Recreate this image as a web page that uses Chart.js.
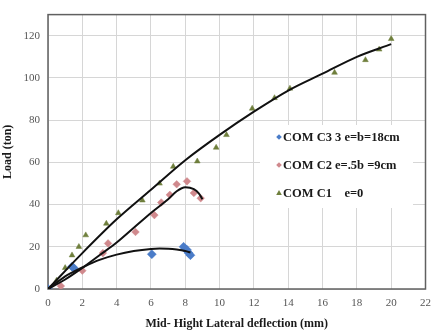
<!DOCTYPE html>
<html><head><meta charset="utf-8">
<script src="https://cdn.jsdelivr.net/npm/chart.js@4/dist/chart.umd.min.js"></script>
<style>html,body{margin:0;padding:0;background:#fff}#wrap{width:439px;height:336px;position:relative}</style>
</head><body><div id="wrap"><canvas id="c" width="439" height="336"></canvas></div>
<script>
// ---- tick labels ----
const xTicks = [0,2,4,6,8,10,12,14,16,18,20,22];
const yTicks = [0,20,40,60,80,100,120];
const xTitle = 'Mid- Hight Lateral deflection (mm)';
const yTitle = 'Load (ton)';
const seriesNames = ['COM C3 3 e=b=18cm', 'COM C2 e=.5b =9cm', 'COM C1    e=0'];

// ---- measured points ----
const c3X = [0, 1.4, 1.5, 6.05, 7.9, 8.0, 8.1, 8.2, 8.3];
const c3Y = [0, 10.6, 10.0, 16.5, 20, 19, 18.5, 17, 16];
const c2X = [0, 0.75, 2.0, 3.2, 3.5, 5.1, 6.2, 6.6, 7.1, 7.5, 8.1, 8.5, 8.9];
const c2Y = [0, 1.4, 8.7, 17, 21.6, 27, 35, 41, 44.6, 49.6, 51, 45.5, 43];
const c1X = [0, 0.5, 1.0, 1.4, 1.8, 2.2, 3.4, 4.1, 5.5, 6.5, 7.3, 8.7, 9.8, 10.4, 11.9, 13.2, 14.1, 16.7, 18.5, 19.3, 20];
const c1Y = [0, 4, 10, 16, 20, 25.5, 31, 36, 42, 50, 58, 60.5, 67, 73, 85.5, 90.5, 95, 102.5, 108.5, 113.5, 118.5];

// ---- trend lines ----
const t3X = [0, 0.5, 1, 1.5, 2, 3, 4, 5, 6, 6.5, 7, 7.5, 8, 8.3];
const t3Y = [0, 3, 6, 8.2, 10.2, 13.8, 16.3, 18, 19, 19.2, 19.1, 18.7, 18, 17.3];
const t2X = [0, 1, 2, 3, 4, 5, 6, 7, 7.5, 8, 8.5, 8.8, 9];
const t2Y = [0, 4.5, 10, 16, 22, 29, 36, 42.5, 46.3, 48.2, 47.3, 45.2, 42.5];
const t1X = [0, 2, 4, 6, 8, 10, 12, 14, 16, 18, 20];
const t1Y = [0, 17, 33, 47, 61, 73, 84, 94, 102, 110, 116];

const colors = ['#4a7cc8', '#d0898d', '#6f7f3c'];
const styles = ['rectRot', 'rectRot', 'triangle'];
const radii = [4.5, 3.8, 3.3];

const pts = (xs, ys) => xs.map((x, i) => ({x: x, y: ys[i]}));

const markerSets = [[c3X, c3Y], [c2X, c2Y], [c1X, c1Y]].map((d, i) => ({
  label: seriesNames[i], data: pts(d[0], d[1]), showLine: false,
  pointStyle: styles[i], pointRadius: radii[i], pointBackgroundColor: colors[i],
  pointBorderColor: colors[i], pointBorderWidth: 0.5, order: 2
}));
const trendSets = [[t3X, t3Y], [t2X, t2Y], [t1X, t1Y]].map((d, i) => ({
  label: 'trend' + i, data: pts(d[0], d[1]), showLine: true, pointRadius: 0,
  borderColor: '#111', borderWidth: 2, cubicInterpolationMode: 'monotone', fill: false, order: 1
}));

const frame = {
  id: 'frame',
  beforeDatasetsDraw(chart) {
    const a = chart.chartArea, ctx = chart.ctx;
    ctx.save(); ctx.strokeStyle = '#606060'; ctx.lineWidth = 1.5;
    ctx.strokeRect(a.left, a.top, a.right - a.left, a.bottom - a.top);
    ctx.restore();
  }
};
const legendBox = {
  id: 'legendBox',
  afterDatasetsDraw(chart) {
    const ctx = chart.ctx;
    ctx.save();
    ctx.fillStyle = '#fff';
    ctx.fillRect(260, 125, 153, 83);
    ctx.font = 'bold 12.5px "Liberation Serif", serif';
    ctx.textBaseline = 'middle';
    seriesNames.forEach((n, i) => {
      const y = 137 + i * 28, x = 279;
      ctx.fillStyle = colors[i];
      ctx.beginPath();
      if (styles[i] === 'triangle') {
        ctx.moveTo(x, y - 3); ctx.lineTo(x + 2.8, y + 2); ctx.lineTo(x - 2.8, y + 2);
      } else {
        ctx.moveTo(x, y - 2.8); ctx.lineTo(x + 2.8, y); ctx.lineTo(x, y + 2.8); ctx.lineTo(x - 2.8, y);
      }
      ctx.closePath(); ctx.fill();
      ctx.fillStyle = '#1a1a1a';
      ctx.fillText(n, 283, y + 1);
    });
    ctx.restore();
  }
};

const tickFont = {family: '"Liberation Serif", serif', size: 11};
const titleFont = {family: '"Liberation Serif", serif', size: 12, weight: 'bold'};

new Chart(document.getElementById('c'), {
  type: 'scatter',
  data: {datasets: trendSets.concat(markerSets)},
  options: {
    responsive: false, animation: false, devicePixelRatio: 1,
    layout: {padding: {top: 4, right: 10, left: 0, bottom: 0}},
    plugins: {legend: {display: false}, tooltip: {enabled: false}},
    scales: {
      x: {
        type: 'linear', min: 0, max: 22,
        afterBuildTicks: s => { s.ticks = xTicks.map(v => ({value: v})); },
        afterFit: s => { s.height = 47; },
        grid: {color: '#d6d6d6', drawTicks: false},
        border: {display: false},
        ticks: {font: tickFont, color: '#555', padding: 8, maxRotation: 0, autoSkip: false},
        title: {display: true, text: xTitle, font: titleFont, color: '#1a1a1a', padding: {top: 0, bottom: 5}}
      },
      y: {
        type: 'linear', min: 0, max: 130,
        afterBuildTicks: s => { s.ticks = yTicks.map(v => ({value: v})); },
        afterFit: s => { s.width = 48; },
        grid: {color: '#d6d6d6', drawTicks: false},
        border: {display: false},
        ticks: {font: tickFont, color: '#555', padding: 8, autoSkip: false},
        title: {display: true, text: yTitle, font: titleFont, color: '#1a1a1a', padding: {top: 1, bottom: 0}}
      }
    }
  },
  plugins: [frame, legendBox]
});
</script></body></html>
